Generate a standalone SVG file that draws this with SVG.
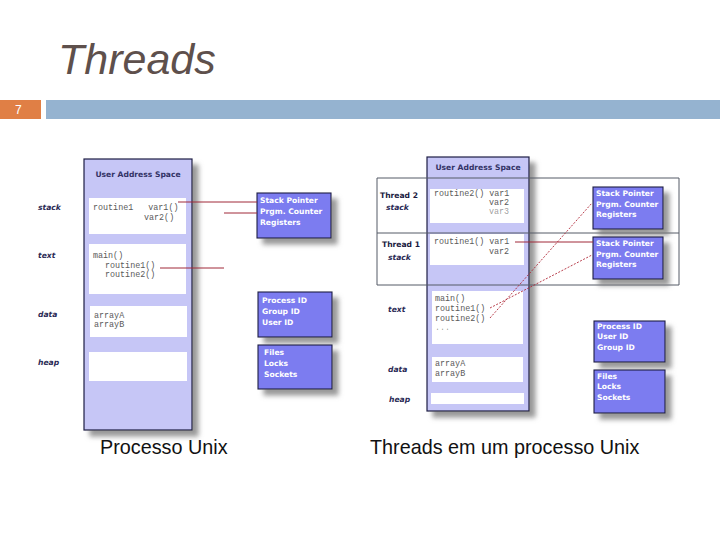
<svg xmlns="http://www.w3.org/2000/svg" width="720" height="540" viewBox="0 0 720 540">
<style>
.title{font-family:"Liberation Sans",Arial,sans-serif;font-style:italic;font-size:43px;fill:#5e504c}
.cap{font-family:"Liberation Sans",Arial,sans-serif;font-size:19.8px;fill:#111}
.hdr{font-family:"DejaVu Sans",Verdana,sans-serif;font-weight:bold;font-size:7.6px;fill:#333366}
.lbl{font-family:"DejaVu Sans",Verdana,sans-serif;font-weight:bold;font-style:italic;font-size:7.6px;fill:#2a2a55}
.thr{font-family:"DejaVu Sans",Verdana,sans-serif;font-weight:bold;font-size:7.6px;fill:#1a1a40}
.mono{font-family:"Liberation Mono","Courier New",monospace;font-size:8.4px;fill:#5a5a5a}
.reg{font-family:"DejaVu Sans",Verdana,sans-serif;font-weight:bold;font-size:7.6px;fill:#fff}
.space{fill:#c6c6f6;stroke:#1c1c44;stroke-width:1.2}
.seg{fill:#fff}
.blue{fill:#7b7bf0;stroke:#1c1c44;stroke-width:1.1}
.conn{stroke:#a02838;stroke-width:1;fill:none}
.dash{stroke:#b02838;stroke-width:0.9;fill:none;stroke-dasharray:2 1.5}
.grid{stroke:#555a66;stroke-width:1;fill:none}
</style>
<defs>
<filter id="sh" x="-20%" y="-20%" width="150%" height="150%">
<feDropShadow dx="6" dy="6" stdDeviation="2.5" flood-color="#777" flood-opacity="0.75"/>
</filter>
</defs>
<rect width="720" height="540" fill="#fff"/>
<text class="title" x="58" y="74">Threads</text>
<rect x="0" y="100" width="41" height="19" fill="#e07f45"/>
<text x="15" y="114" font-family="'Liberation Sans',Arial,sans-serif" font-size="12" fill="#fff">7</text>
<rect x="46" y="100" width="674" height="19" fill="#95b3d0"/>

<text class="cap" x="100" y="454">Processo Unix</text>
<text class="cap" x="370" y="454">Threads em um processo Unix</text>

<!-- Left diagram -->
<g id="left-space">
<rect class="space" x="84" y="159" width="108" height="271" filter="url(#sh)"/>
<text class="hdr" x="138" y="177" text-anchor="middle">User Address Space</text>
<rect class="seg" x="89" y="198" width="97" height="36"/>
<text class="mono" x="93" y="210" xml:space="preserve">routine1   var1()</text>
<text class="mono" x="144" y="220">var2()</text>
<rect class="seg" x="89" y="244" width="97" height="50"/>
<text class="mono" x="93" y="258">main()</text>
<text class="mono" x="105" y="268">routine1()</text>
<text class="mono" x="105" y="277">routine2()</text>
<rect class="seg" x="90" y="306" width="97" height="31"/>
<text class="mono" x="94" y="318">arrayA</text>
<text class="mono" x="94" y="327">arrayB</text>
<rect class="seg" x="89" y="352" width="98" height="29"/>
</g>
<g id="left-labels">
<text class="lbl" x="38" y="210">stack</text>
<text class="lbl" x="38" y="258">text</text>
<text class="lbl" x="38" y="317">data</text>
<text class="lbl" x="38" y="365">heap</text>
</g>
<g id="left-regs">
<rect class="blue" x="257" y="193" width="74" height="45" filter="url(#sh)"/>
<text class="reg" x="260" y="203">Stack Pointer</text>
<text class="reg" x="260" y="214">Prgm. Counter</text>
<text class="reg" x="260" y="225">Registers</text>
</g>
<g id="left-ids">
<rect class="blue" x="258" y="292" width="74" height="45" filter="url(#sh)"/>
<text class="reg" x="262" y="303">Process ID</text>
<text class="reg" x="262" y="314">Group ID</text>
<text class="reg" x="262" y="325">User ID</text>
</g>
<g id="left-files">
<rect class="blue" x="258" y="345" width="74" height="44" filter="url(#sh)"/>
<text class="reg" x="264" y="355">Files</text>
<text class="reg" x="264" y="366">Locks</text>
<text class="reg" x="264" y="377">Sockets</text>
</g>

<!-- Right diagram -->
<g id="right-space">
<rect class="space" x="427" y="157" width="102" height="254" filter="url(#sh)"/>
<text class="hdr" x="478" y="170" text-anchor="middle">User Address Space</text>
</g>
<g id="thread-rows">
<path class="grid" d="M377,178H679V285H377Z M377,233H679"/>
<text class="thr" x="380" y="198">Thread 2</text>
<text class="lbl" x="386" y="210">stack</text>
<text class="thr" x="382" y="247">Thread 1</text>
<text class="lbl" x="388" y="260">stack</text>
</g>
<g id="right-segs">
<rect class="seg" x="430" y="189" width="94" height="34"/>
<text class="mono" x="434" y="196">routine2() var1</text>
<text class="mono" x="489" y="205">var2</text>
<text class="mono" x="489" y="214" fill-opacity="0.6">var3</text>
<rect class="seg" x="430" y="234" width="94" height="31"/>
<text class="mono" x="434" y="244">routine1() var1</text>
<text class="mono" x="489" y="254">var2</text>
<rect class="seg" x="432" y="291" width="91" height="53"/>
<text class="mono" x="435" y="301">main()</text>
<text class="mono" x="435" y="311">routine1()</text>
<text class="mono" x="435" y="321">routine2()</text>
<text class="mono" x="435" y="330" fill-opacity="0.6">...</text>
<rect class="seg" x="432" y="357" width="91" height="25"/>
<text class="mono" x="435" y="366">arrayA</text>
<text class="mono" x="435" y="376">arrayB</text>
<rect class="seg" x="431" y="393" width="93" height="11"/>
</g>
<g id="right-labels">
<text class="lbl" x="388" y="312">text</text>
<text class="lbl" x="388" y="372">data</text>
<text class="lbl" x="389" y="402">heap</text>
</g>
<g id="t2-regs">
<rect class="blue" x="593" y="187" width="70" height="42" filter="url(#sh)"/>
<text class="reg" x="596" y="196">Stack Pointer</text>
<text class="reg" x="596" y="207">Prgm. Counter</text>
<text class="reg" x="596" y="217">Registers</text>
</g>
<g id="t1-regs">
<rect class="blue" x="593" y="237" width="70" height="42" filter="url(#sh)"/>
<text class="reg" x="596" y="246">Stack Pointer</text>
<text class="reg" x="596" y="257">Prgm. Counter</text>
<text class="reg" x="596" y="267">Registers</text>
</g>
<g id="right-ids">
<rect class="blue" x="594" y="321" width="71" height="41" filter="url(#sh)"/>
<text class="reg" x="597" y="329">Process ID</text>
<text class="reg" x="597" y="339">User ID</text>
<text class="reg" x="597" y="350">Group ID</text>
</g>
<g id="right-files">
<rect class="blue" x="594" y="370" width="71" height="43" filter="url(#sh)"/>
<text class="reg" x="597" y="379">Files</text>
<text class="reg" x="597" y="389">Locks</text>
<text class="reg" x="597" y="400">Sockets</text>
</g>

<g id="connectors">
<path class="conn" d="M178,202H257"/>
<path class="conn" d="M224,213H257"/>
<path class="conn" d="M160,268H224"/>
<path class="conn" d="M515,242H593"/>
<path class="dash" d="M490,318L592,203"/>
<path class="dash" d="M490,308L592,255"/>
</g>
</svg>
